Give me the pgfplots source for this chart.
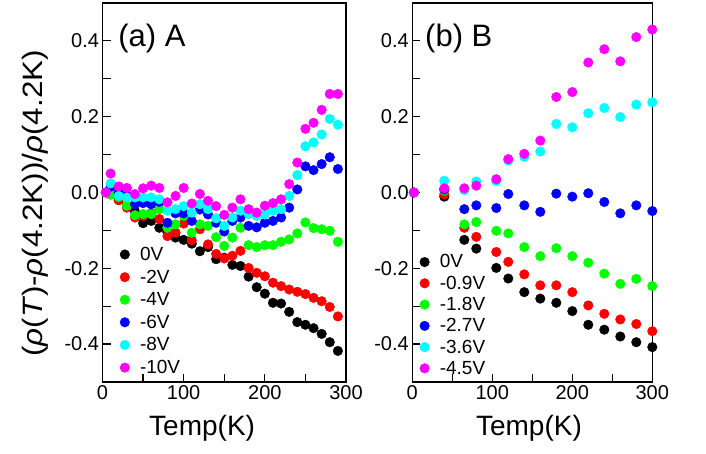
\documentclass[border=0pt]{standalone}
\usepackage{fontspec}
\setmainfont{Liberation Sans}
\usepackage{pgfplots}
\pgfplotsset{compat=1.18}
\usepackage{pgfplotstable}

\pgfplotstableread{
T v0 v2 v4 v6 v8 v10
4.2 0 0 0 0 0 0
10 -0.005 -0.005 -0.005 0.015 0.024 0.050
20 -0.020 -0.020 -0.012 0.000 -0.009 0.016
30 -0.035 -0.040 -0.035 -0.008 -0.013 0.012
40 -0.050 -0.066 -0.060 -0.031 -0.013 -0.004
50 -0.081 -0.062 -0.057 -0.028 -0.013 0.011
60 -0.075 -0.055 -0.057 -0.031 -0.013 0.018
70 -0.093 -0.070 -0.044 -0.025 -0.018 0.012
80 -0.105 -0.115 -0.093 -0.080 -0.048 -0.026
90 -0.119 -0.106 -0.084 -0.055 -0.044 -0.009
100 -0.125 -0.082 -0.062 -0.055 -0.036 0.012
110 -0.135 -0.126 -0.106 -0.075 -0.053 -0.029
120 -0.155 -0.097 -0.084 -0.045 -0.031 -0.004
130 -0.144 -0.137 -0.088 -0.058 -0.044 -0.022
140 -0.176 -0.162 -0.118 -0.080 -0.068 -0.036
150 -0.172 -0.174 -0.141 -0.103 -0.088 -0.059
160 -0.191 -0.167 -0.119 -0.075 -0.066 -0.040
170 -0.194 -0.154 -0.093 -0.066 -0.048 -0.018
180 -0.222 -0.199 -0.139 -0.088 -0.057 -0.044
190 -0.250 -0.212 -0.144 -0.092 -0.062 -0.053
200 -0.267 -0.221 -0.139 -0.080 -0.058 -0.035
210 -0.291 -0.238 -0.139 -0.075 -0.048 -0.028
220 -0.293 -0.247 -0.130 -0.066 -0.044 -0.018
230 -0.315 -0.256 -0.124 -0.040 -0.009 0.022
240 -0.342 -0.262 -0.108 0.008 0.046 0.079
250 -0.349 -0.268 -0.079 0.069 0.122 0.168
260 -0.358 -0.278 -0.094 0.059 0.132 0.184
270 -0.373 -0.287 -0.097 0.075 0.153 0.218
280 -0.395 -0.302 -0.101 0.093 0.194 0.260
290 -0.418 -0.327 -0.130 0.062 0.179 0.260
}\dataA

\pgfplotstableread{
T v0 v09 v18 v27 v36 v45
2 0 0 0 0 0 0
40 -0.011 -0.005 0.005 0.008 0.031 0.011
65 -0.125 -0.093 -0.084 -0.044 0.006 0.011
80 -0.148 -0.117 -0.078 -0.034 0.029 0.018
105 -0.199 -0.157 -0.101 -0.041 0.030 0.035
120 -0.227 -0.183 -0.108 -0.004 0.084 0.088
140 -0.263 -0.216 -0.144 -0.034 0.094 0.102
160 -0.280 -0.245 -0.168 -0.051 0.108 0.137
180 -0.291 -0.245 -0.147 -0.003 0.181 0.252
200 -0.313 -0.263 -0.168 -0.011 0.172 0.265
220 -0.349 -0.298 -0.185 -0.002 0.209 0.343
240 -0.362 -0.320 -0.214 -0.025 0.223 0.378
260 -0.380 -0.335 -0.241 -0.055 0.199 0.346
280 -0.395 -0.347 -0.228 -0.034 0.232 0.410
300 -0.408 -0.366 -0.247 -0.049 0.238 0.430
}\dataB

\definecolor{cR}{RGB}{255,0,0}
\definecolor{cG}{RGB}{0,255,0}
\definecolor{cB}{RGB}{0,0,255}
\definecolor{cC}{RGB}{0,255,255}
\definecolor{cM}{RGB}{255,0,255}

\pgfplotsset{
  panel/.style={
    scale only axis,
    height=379pt,
    xmin=0, xmax=300, ymin=-0.5, ymax=0.5,
    xtick={0,100,200,300}, minor xtick={50,150,250},
    ytick={-0.4,-0.2,0,0.2,0.4}, minor ytick={-0.3,-0.1,0.1,0.3},
    xtick pos=bottom, ytick pos=left,
    tick align=inside,
    major tick length=8pt, minor tick length=8pt,
    every tick/.style={black, line width=1.2pt},
    axis line style={line width=1.6pt},
    ticklabel style={font=\fontsize{20}{20}\selectfont},
    yticklabel style={/pgf/number format/.cd, fixed, fixed zerofill, precision=1, assume math mode=true},
    xticklabel style={/pgf/number format/assume math mode=true},
    xlabel={Temp(K)},
    xlabel style={font=\fontsize{28}{28}\selectfont, anchor=base},
    legend style={draw=none, fill=none, anchor=north west,
      font=\fontsize{19}{19}\selectfont,
      cells={anchor=west}},
    legend image code/.code={\draw[#1] plot coordinates {(0pt,0pt)}; \path (-7pt,0pt) (13pt,0pt);},
    every axis plot/.append style={only marks, mark=*, mark size=4.8pt},
  }
}

\begin{document}
\begin{tikzpicture}
\useasboundingbox (0,0) rectangle (706pt,454pt);
\begin{axis}[panel, width=243.5pt, at={(102.5pt,72pt)}, anchor=south west,
  xlabel style={at={(axis description cs:0.409,-0.14)}},
  ylabel={(\textit{ρ}(\textit{T})-\textit{ρ}(4.2K))/\textit{ρ}(4.2K)},
  ylabel style={font=\fontsize{28}{28}\selectfont, at={(axis description cs:-0.277,0.471)}, anchor=center, xscale=1.12},
  legend style={at={(axis description cs:0.049,0.367)}, row sep=3.9pt}]
\addplot[black] table[x=T,y=v0]{\dataA};
\addplot[cR] table[x=T,y=v2]{\dataA};
\addplot[cG] table[x=T,y=v4]{\dataA};
\addplot[cB] table[x=T,y=v6]{\dataA};
\addplot[cC] table[x=T,y=v8]{\dataA};
\addplot[cM] table[x=T,y=v10]{\dataA};
\legend{0V,-2V,-4V,-6V,-8V,-10V}
\node[anchor=base west, inner sep=0pt, font=\fontsize{31}{31}\selectfont] at (axis description cs:0.064,0.884) {(a) A};
\end{axis}
\begin{axis}[panel, width=240pt, at={(412.3pt,72pt)}, anchor=south west,
  xlabel style={at={(axis description cs:0.486,-0.14)}},
  legend style={at={(axis description cs:0.008,0.347)}, row sep=2.5pt}]
\addplot[black] table[x=T,y=v0]{\dataB};
\addplot[cR] table[x=T,y=v09]{\dataB};
\addplot[cG] table[x=T,y=v18]{\dataB};
\addplot[cB] table[x=T,y=v27]{\dataB};
\addplot[cC] table[x=T,y=v36]{\dataB};
\addplot[cM] table[x=T,y=v45]{\dataB};
\legend{0V,-0.9V,-1.8V,-2.7V,-3.6V,-4.5V}
\node[anchor=base west, inner sep=0pt, font=\fontsize{31}{31}\selectfont] at (axis description cs:0.053,0.884) {(b) B};
\end{axis}
\end{tikzpicture}
\end{document}
